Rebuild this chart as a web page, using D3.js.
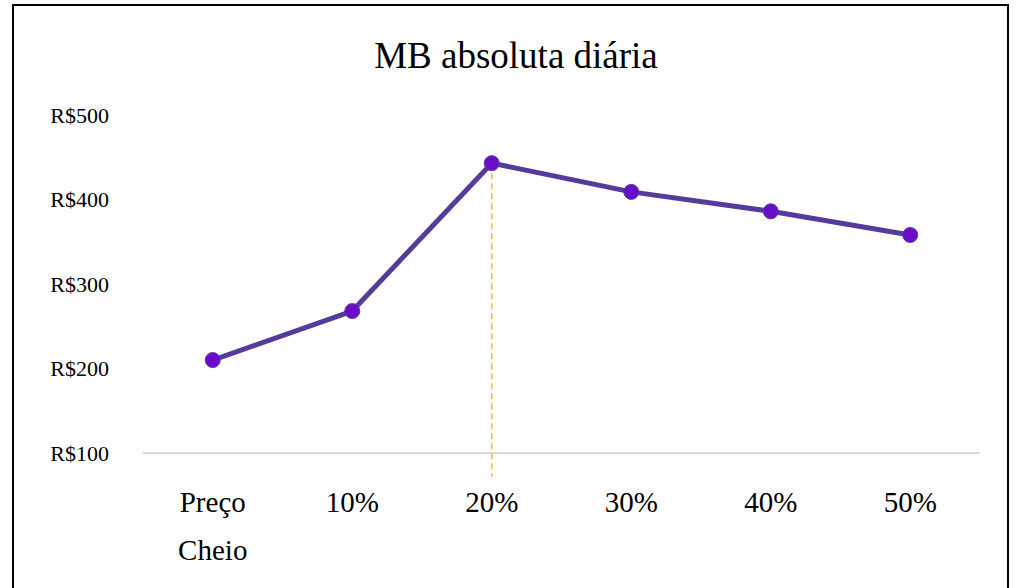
<!DOCTYPE html>
<html>
<head>
    <meta charset="utf-8">
    <style>
        body { margin:0; background:#fff; }
        text { font-family:"Liberation Serif", "DejaVu Serif", serif; fill:#000; }
        .frame { fill:none; stroke:#000; stroke-width:2px; }
        .grid line { stroke:#d9d9d9; stroke-width:2px; }
        path.linha { fill:none; stroke:#553c9a; stroke-width:5px; stroke-linejoin:round; }
        circle { fill:#6a0dc8; stroke:#553c9a; stroke-width:1px; }
        .guia { stroke:#ffc000; stroke-width:1.5px; stroke-dasharray:6,4; }
    </style>
    <script src="https://cdn.jsdelivr.net/npm/d3@7"></script>
</head>
<body>
<script>
    let categorias = ["Preço Cheio", "10%", "20%", "30%", "40%", "50%"];
    let valores = [210, 268, 443, 409, 386, 358];
    let ticks_y = [100, 200, 300, 400, 500];
    let destaque = "20%";

    let width = 1018, height = 588;
    let m_left = 143, m_right = 980, m_top = 115, m_bottom = 453;

    let svg = d3.select("body").append("svg")
        .attr("width", width)
        .attr("height", height);

    svg.append("rect")
        .attr("class", "frame")
        .attr("x", 13).attr("y", 5)
        .attr("width", 995).attr("height", 600);

    let x_scale = d3.scaleBand()
        .domain(categorias)
        .range([m_left, m_right]);

    let y_scale = d3.scaleLinear()
        .domain([100, 500])
        .range([m_bottom, m_top]);

    // only the base line is visible
    svg.append("g")
        .attr("class", "grid")
        .append("line")
        .attr("x1", m_left).attr("x2", m_right)
        .attr("y1", y_scale(100)).attr("y2", y_scale(100));

    // y labels
    let y_axis = d3.axisLeft(y_scale)
        .tickValues(ticks_y)
        .tickSize(0)
        .tickPadding(0)
        .tickFormat(d => "R$" + d);
    let gy = svg.append("g")
        .attr("transform", "translate(109,0)")
        .call(y_axis);
    gy.select(".domain").remove();
    gy.selectAll("text")
        .style("font-size", "22px")
        .style("font-family", "'Liberation Serif', serif")
        .attr("fill", "#000");

    // x labels (two lines for Preço Cheio)
    let gx = svg.append("g");
    categorias.forEach(function(c) {
        let t = gx.append("text")
            .attr("text-anchor", "middle")
            .attr("x", x_scale(c) + x_scale.bandwidth() / 2)
            .attr("y", 512)
            .style("font-size", "29px");
        let partes = c.split(" ");
        partes.forEach(function(p, i) {
            t.append("tspan")
                .attr("x", x_scale(c) + x_scale.bandwidth() / 2)
                .attr("dy", i == 0 ? 0 : 48)
                .text(p);
        });
    });

    let cx = d => x_scale(d) + x_scale.bandwidth() / 2;

    // dashed guide on the peak
    let iDest = categorias.indexOf(destaque);
    svg.append("line")
        .attr("class", "guia")
        .attr("x1", cx(destaque)).attr("x2", cx(destaque))
        .attr("y1", y_scale(valores[iDest]))
        .attr("y2", y_scale(100) + 24);

    let line = d3.line()
        .x((d, i) => cx(categorias[i]))
        .y(d => y_scale(d));

    svg.append("path")
        .attr("class", "linha")
        .attr("d", line(valores));

    svg.selectAll("circle")
        .data(valores)
        .join("circle")
        .attr("cx", (d, i) => cx(categorias[i]))
        .attr("cy", d => y_scale(d))
        .attr("r", 7.5);

    // title
    svg.append("text")
        .attr("text-anchor", "middle")
        .attr("x", 516)
        .attr("y", 68)
        .style("font-size", "37px")
        .text("MB absoluta diária");
</script>
</body>
</html>
